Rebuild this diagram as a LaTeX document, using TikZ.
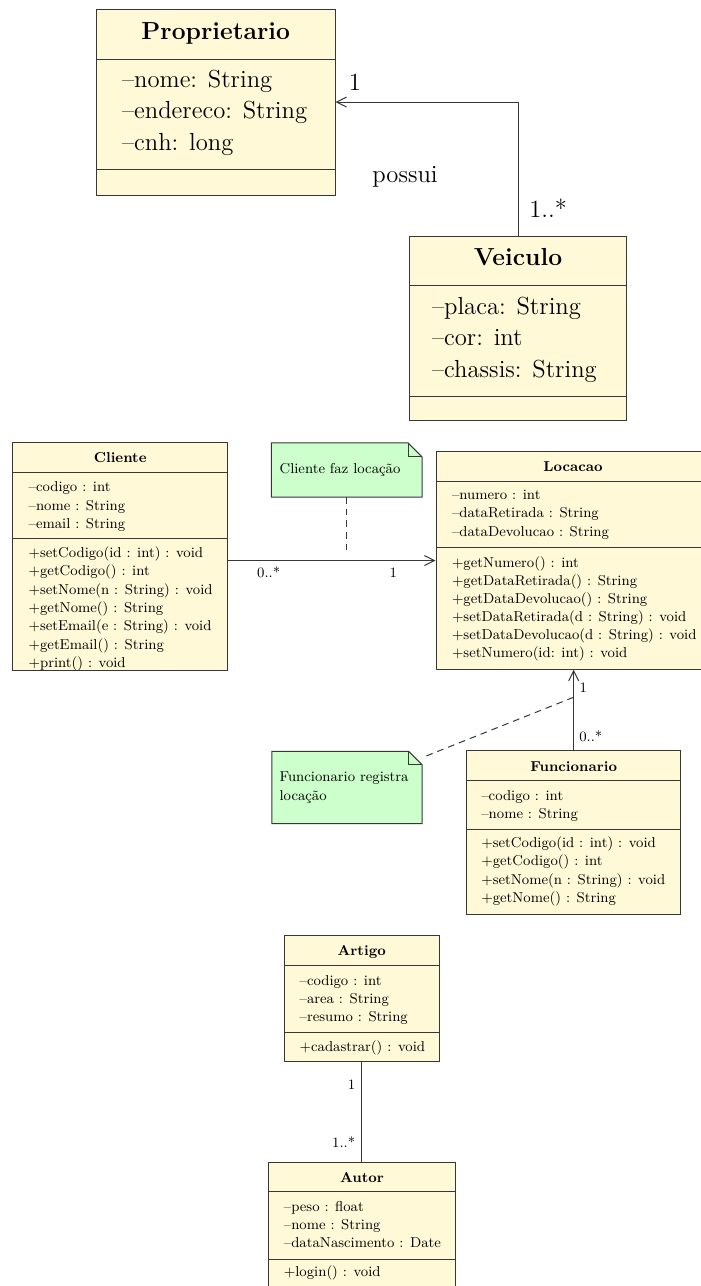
\documentclass[tikz,border=0pt]{standalone}
\usepackage{fontspec}
\usetikzlibrary{arrows.meta,fit}

\definecolor{classfill}{RGB}{255,249,215}
\definecolor{notefill}{RGB}{204,255,204}
\definecolor{umlline}{RGB}{55,55,55}

\newcommand\smallfont{\fontsize{8.6}{11}\selectfont}
\newcommand\bigfont{\fontsize{14.8}{18.8}\selectfont}

\tikzset{
  box/.style={draw=umlline, fill=classfill, line width=0.6pt, inner sep=0pt},
  notebox/.style={inner sep=0pt},
  sepline/.style={draw=umlline, line width=0.6pt},
  row/.style={anchor=west, inner sep=0pt, text height=0.7em, text depth=0pt},
  srow/.style={row, font=\smallfont, yshift=0.9pt},
  brow/.style={row, font=\bigfont},
  ttl/.style={inner sep=0pt, text height=0.7em, text depth=0pt},
  lbl/.style={inner sep=0pt, text height=0.7em, text depth=0pt},
  assoc/.style={draw=umlline, line width=0.6pt},
  navig/.style={assoc, -{Straight Barb[length=6pt,width=6pt]}},
  anchorline/.style={draw=umlline, line width=0.6pt, dash pattern=on 4pt off 3pt},
  notepath/.style={draw=umlline, fill=notefill, line width=0.6pt},
}

% rows of a compartment: name, x, first y, step, row style, entries
\newcommand\rowlist[6]{%
  \foreach \t [count=\i from 0] in {#6}
    \node[#5] (#1\i) at (#2, #3+\i*#4) {\t};}

% folded note outline around a fitted node: name, fold size
\newcommand\notefold[2]{%
  \draw[notepath] (#1.south west) -- (#1.north west)
    -- ([xshift=-#2]#1.north east) -- ([yshift=-#2]#1.north east)
    -- (#1.south east) -- cycle;
  \draw[notepath, fill=none] ([xshift=-#2]#1.north east) |- ([yshift=-#2]#1.north east);}

\begin{document}
\begin{tikzpicture}[x=0.6pt, y=-0.6pt]
\useasboundingbox (0,0) rectangle (701,1286);
\clip (0,0) rectangle (701,1286);

% ---------------- Proprietario ----------------
\node[box, fit={(96.5,9) (335,195)}] (prop) {};
\draw[sepline] (96.5,59.3) -- (335,59.3);
\draw[sepline] (96.5,169) -- (335,169);
\node[ttl, font=\bigfont\bfseries] (prop-t) at (215.75,33.5) {Proprietario};
\rowlist{prop-a}{121.7}{81.7}{31.3}{brow}{--nome: String, --endereco: String, --cnh: long}

% ---------------- Veiculo ----------------
\node[box, fit={(409.3,236) (626.7,420)}] (veic) {};
\draw[sepline] (409.3,285.7) -- (626.7,285.7);
\draw[sepline] (409.3,396.7) -- (626.7,396.7);
\node[ttl, font=\bigfont\bfseries] (veic-t) at (518,260) {Veiculo};
\rowlist{veic-a}{431.7}{308.5}{31.5}{brow}{--placa: String, --cor: int, --chassis: String}

\draw[navig] (veic.north) |- (prop.east);
\node[lbl, font=\bigfont] (lp1) at (355,85) {1};
\node[lbl, font=\bigfont] (lp2) at (405,176.7) {possui};
\node[lbl, font=\bigfont, anchor=west] (lp3) at (529,211.7) {1..*};

% ---------------- Cliente ----------------
\node[box, fit={(12.7,442.7) (227.7,670)}] (cli) {};
\draw[sepline] (12.7,472.3) -- (227.7,472.3);
\draw[sepline] (12.7,538.3) -- (227.7,538.3);
\node[ttl, font=\smallfont\bfseries] (cli-t) at (120.2,456.7) {Cliente};
\rowlist{cli-a}{28.3}{487.3}{18.5}{srow}{--codigo : int, --nome : String, --email : String}
\rowlist{cli-o}{28.3}{553.3}{18.33}{srow}{+setCodigo(id : int) : void, +getCodigo() : int, +setNome(n : String) : void, +getNome() : String, +setEmail(e : String) : void, +getEmail() : String, +print() : void}

% ---------------- Locacao ----------------
\node[box, fit={(436,451.7) (704,669.3)}] (loc) {};
\draw[sepline] (436,481.7) -- (704,481.7);
\draw[sepline] (436,547.3) -- (704,547.3);
\node[ttl, font=\smallfont\bfseries] (loc-t) at (573,466) {Locacao};
\rowlist{loc-a}{451.7}{495}{18.5}{srow}{--numero : int, --dataRetirada : String, --dataDevolucao : String}
\rowlist{loc-o}{451.7}{562.7}{18.1}{srow}{+getNumero() : int, +getDataRetirada() : String, +getDataDevolucao() : String, +setDataRetirada(d : String) : void, +setDataDevolucao(d : String) : void, +setNumero(id: int) : void}

\draw[navig] (cli.east |- loc.west) -- (loc.west);
\node[lbl, font=\smallfont] (lc1) at (268.7,571.7) {0..*};
\node[lbl, font=\smallfont] (lc2) at (393.3,571.7) {1};

% note on the Cliente--Locacao association
\node[notebox, fit={(271.7,443.3) (421.7,496.7)}] (note1) {};
\notefold{note1}{8.4pt}
\node[srow] (note1-t) at (279.3,469.3) {Cliente faz locação};
\coordinate (note1-end) at (346.7,552);
\draw[anchorline] (note1.south) -- (note1-end);

% ---------------- Funcionario ----------------
\node[box, fit={(466.7,750.7) (680.7,914)}] (func) {};
\draw[sepline] (466.7,780.7) -- (680.7,780.7);
\draw[sepline] (466.7,829.3) -- (680.7,829.3);
\node[ttl, font=\smallfont\bfseries] (func-t) at (573.7,766) {Funcionario};
\rowlist{func-a}{481}{796}{18}{srow}{--codigo : int, --nome : String}
\rowlist{func-o}{481}{843.3}{18.33}{srow}{+setCodigo(id : int) : void, +getCodigo() : int, +setNome(n : String) : void, +getNome() : String}

\draw[navig] (func.north) -- (func.north |- loc.south);
\node[lbl, font=\smallfont, anchor=west] (lf1) at (579.3,686.5) {1};
\node[lbl, font=\smallfont, anchor=west] (lf2) at (579,735.5) {0..*};

% note on the Funcionario--Locacao association
\node[notebox, fit={(272.3,751.7) (421.7,823.3)}] (note2) {};
\notefold{note2}{8pt}
\node[srow] (note2-t0) at (279.3,777.3) {Funcionario registra};
\node[srow] (note2-t1) at (279.3,796) {locação};
\coordinate (note2-end) at (573.5,697.3);
\draw[anchorline] (note2-end) -- (note2);

% ---------------- Artigo ----------------
\node[box, fit={(284,935.7) (439.3,1061.7)}] (art) {};
\draw[sepline] (284,965.7) -- (439.3,965.7);
\draw[sepline] (284,1032.3) -- (439.3,1032.3);
\node[ttl, font=\smallfont\bfseries] (art-t) at (361.7,950) {Artigo};
\rowlist{art-a}{299.3}{980.7}{18.3}{srow}{--codigo : int, --area : String, --resumo : String}
\rowlist{art-o}{299.3}{1046.7}{18.3}{srow}{+cadastrar() : void}

% ---------------- Autor ----------------
\node[box, fit={(268.3,1162.3) (455.7,1292)}] (aut) {};
\draw[sepline] (268.3,1191.7) -- (455.7,1191.7);
\draw[sepline] (268.3,1259.3) -- (455.7,1259.3);
\node[ttl, font=\smallfont\bfseries] (aut-t) at (362,1176.7) {Autor};
\rowlist{aut-a}{283.6}{1206.7}{18.3}{srow}{--peso : float, --nome : String, --dataNascimento : Date}
\rowlist{aut-o}{283.6}{1271.7}{18.3}{srow}{+login() : void}

\draw[assoc] (art.south) -- (art.south |- aut.north);
\node[lbl, font=\smallfont, anchor=east] (la1) at (355.5,1083.3) {1};
\node[lbl, font=\smallfont, anchor=east] (la2) at (355.5,1141.7) {1..*};
\end{tikzpicture}
\end{document}
